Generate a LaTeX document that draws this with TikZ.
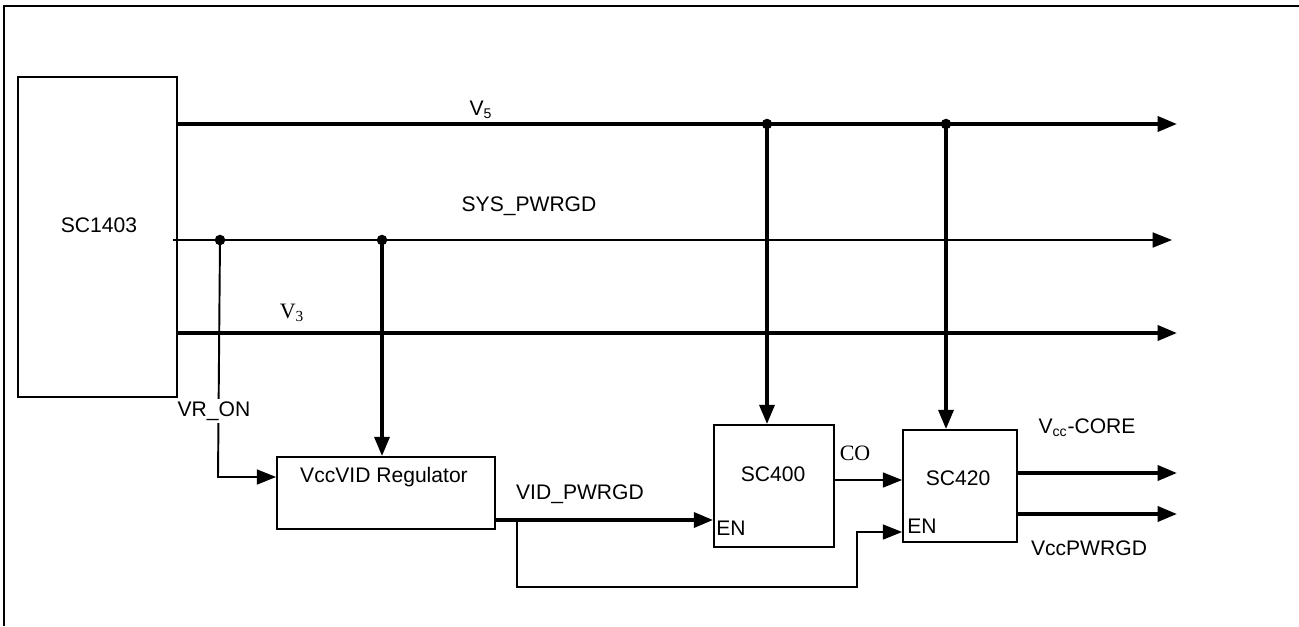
\documentclass[tikz,border=0pt]{standalone}
\usepackage{fontspec}
\setmainfont{Liberation Sans}
\newfontfamily\timesfont{Liberation Serif}
\usetikzlibrary{arrows.meta}
\tikzset{
  blk/.style={rectangle, draw, line width=1pt, inner sep=0pt},
  txt/.style={font=\fontsize{12}{14}\selectfont, inner sep=1pt},
  stxt/.style={font=\timesfont\fontsize{12.5}{14}\selectfont, inner sep=1pt},
  bus/.style={line width=2.1pt},
  sig/.style={line width=1.1pt},
  tip/.style={-{Triangle[length=11pt, width=8.5pt]}},
  dot/.style={circle, fill, inner sep=0pt, minimum size=6pt},
}

\begin{document}
\begin{tikzpicture}[x=0.02cm, y=-0.02cm]
  \useasboundingbox (0,0) rectangle (1299,626);
  % frame
  \draw[line width=1.2pt] (4,626) -- (4,6) -- (1299,6);

  % blocks
  \node[blk, minimum width=3.18cm, minimum height=6.4cm] (sc1403) at (97.5,237) {};
  \node[blk, minimum width=4.36cm, minimum height=1.44cm] (vreg) at (386,493) {};
  \node[blk, minimum width=2.4cm, minimum height=2.44cm] (sc400) at (774,486) {};
  \node[blk, minimum width=2.28cm, minimum height=2.24cm] (sc420) at (960,486) {};
  \node[txt] (tsc1403) at (99,225) {SC1403};
  \node[txt] (tvreg) at (384,477) {VccVID Regulator};
  \node[txt] (tsc400) at (773,474) {SC400};
  \node[txt] (tsc420) at (958,478) {SC420};
  \node[txt] (en400) at (731,528) {EN};
  \node[txt] (en420) at (922,526) {EN};

  % rails out of SC1403
  \coordinate (v5end) at (1177,124);
  \coordinate (sysend) at (1172,240);
  \coordinate (v3end) at (1177,333);
  \draw[bus, tip] (sc1403.east |- v5end) -- (v5end);
  \draw[sig, tip] (173,240) -- (sysend);
  \draw[bus, tip] (sc1403.east |- v3end) -- (v3end);
  \node[txt] (lv5) at (481,110) {V\textsubscript{5}};
  \node[txt] (lsys) at (529,206) {SYS\_PWRGD};
  \node[stxt] (lv3) at (292,313) {V\textsubscript{3}};

  % junctions
  \node[dot] (jvr) at (220,240) {};
  \node[dot] (jsys) at (382,240) {};
  \node[dot] (j400) at (767,124) {};
  \node[dot] (j420) at (946,124) {};

  \draw[sig, tip] (jvr.center) -- (218,477) -- (vreg.west |- 0,477);
  \node[txt, fill=white, inner ysep=1.5pt] (lvr) at (214,411) {VR\_ON};
  \draw[bus, tip] (jsys.center) -- (jsys |- vreg.north);
  \draw[bus, tip] (j400.center) -- (j400 |- sc400.north);
  \draw[bus, tip] (j420.center) -- (j420 |- sc420.north);

  % power good chain
  \coordinate (vidout) at (495,520);
  \draw[bus, tip] (vidout) -- (sc400.west |- vidout);
  \node[txt] (lvid) at (580,494) {VID\_PWRGD};
  \draw[sig, tip] (517,520) -- (517,587) -- (857,587) -- (857,532) -- (sc420.west |- 0,532);
  \draw[sig, tip] (sc400.east |- 0,480) -- (sc420.west |- 0,480);
  \node[stxt] (lco) at (855,453) {CO};

  % outputs
  \draw[bus, tip] (sc420.east |- 0,473) -- (1177,473);
  \draw[bus, tip] (sc420.east |- 0,514) -- (1177,514);
  \node[txt] (lcore) at (1087,428) {V\textsubscript{cc}-CORE};
  \node[txt] (lpg) at (1089,548) {VccPWRGD};
\end{tikzpicture}
\end{document}
